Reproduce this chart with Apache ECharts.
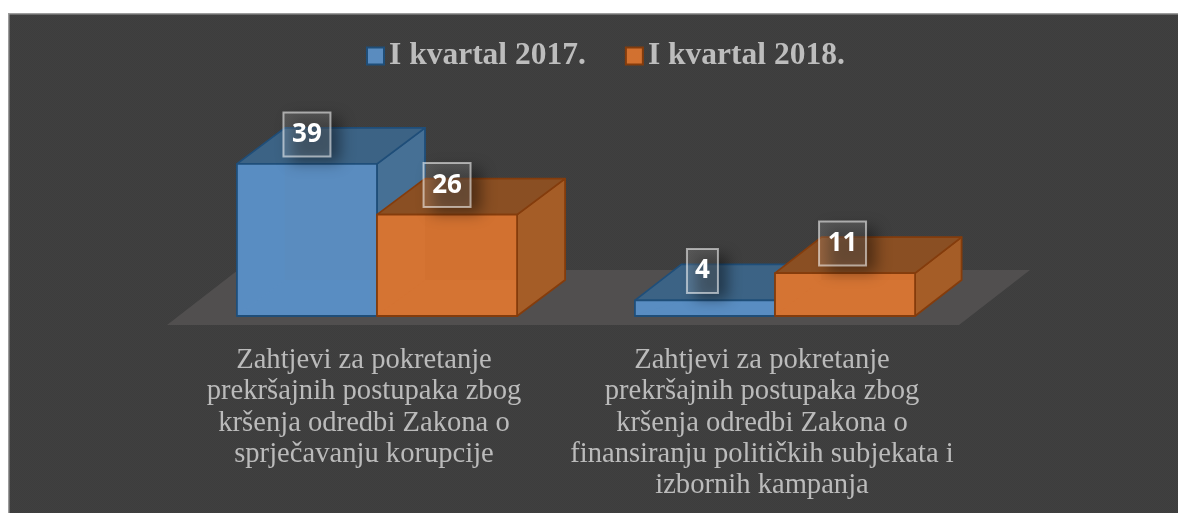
<!DOCTYPE html>
<html><head><meta charset="utf-8">
<style>html,body{margin:0;padding:0;background:#fff}#c{width:1178px;height:513px}</style>
<script src="https://cdn.jsdelivr.net/npm/echarts@6/dist/echarts.min.js"></script>
</head><body><div id="c"></div>
<script>
const categories = [
  "Zahtjevi za pokretanje\nprekršajnih postupaka zbog\nkršenja odredbi Zakona o\nsprječavanju korupcije",
  "Zahtjevi za pokretanje\nprekršajnih postupaka zbog\nkršenja odredbi Zakona o\nfinansiranju političkih subjekata i\nizbornih kampanja"
];
const seriesNames = ["I kvartal 2017.", "I kvartal 2018."];
const values2017 = [39, 4];
const values2018 = [26, 11];

const looks = [
  {front:'#5a8cbf', top:'#3c6385', side:'#467095', edge:'#1f4e79', inner:'rgba(90,160,225,0.10)'},
  {front:'#d27130', top:'#8a4f23', side:'#a55d27', edge:'#843c0c', inner:'rgba(235,135,70,0.14)'}
];

const tile = document.createElement('canvas');
tile.width = tile.height = 2;
const tc = tile.getContext('2d');
tc.fillStyle = '#404040'; tc.fillRect(0,0,2,2);
tc.fillStyle = '#3d3d3d'; tc.fillRect(0,0,1,1); tc.fillRect(1,1,1,1);

function poly(points, style){ return {type:'polygon', shape:{points}, style}; }

function barRenderer(idx){
  return function(params, api){
    const cat = api.value(0), val = api.value(1);
    const p = api.coord([cat, val]), b = api.coord([cat, 0]);
    const w = api.size([1,0])[0] * 0.352;
    const x0 = p[0] + (idx === 0 ? -w : 0), x1 = x0 + w;
    const yt = p[1], yb = b[1];
    const dx = 48 - 1.5*cat, dy = 36;
    const L = looks[idx];
    const stroke = {stroke:L.edge, lineWidth:1.8, lineJoin:'round'};
    const kids = [
      poly([[x1,yb],[x1+dx,yb-dy],[x1+dx,yt-dy],[x1,yt]], Object.assign({fill:L.side}, stroke)),
      poly([[x0,yt],[x0+dx,yt-dy],[x1+dx,yt-dy],[x1,yt]], Object.assign({fill:L.top}, stroke)),
      poly([[x0,yb],[x1,yb],[x1,yt],[x0,yt]], Object.assign({fill:L.front}, stroke)),
      poly([[x0+1,yb-1],[x0+dx,Math.max(yb-dy,yt+1)],[x0+dx,yt+1],[x0+1,yt+1]], {fill:L.inner}),
      poly([[x0+1,yb-1],[x1-1,yb-1],[x1-1,Math.max(yb-dy,yt+1)],[x0+dx,Math.max(yb-dy,yt+1)]], {fill:L.inner})
    ];
    const txt = String(val);
    const bw = txt.length*16 + 15, bh = 44;
    const cx = x0 + w/2 - (cat === 1 ? 2.5 : 0), cy = yt - 29.5;
    const box = {x:cx-bw/2, y:cy-bh/2, width:bw, height:bh};
    const far = 4000;
    kids.push({type:'rect', shape:{x:box.x+8-far, y:box.y+6, width:bw+2, height:bh},
      style:{fill:'#000', shadowBlur:14, shadowColor:'rgba(0,0,0,0.42)', shadowOffsetX:far, shadowOffsetY:0}});
    kids.push({type:'rect', shape:box, style:{fill:'rgba(255,255,255,0.13)', stroke:'rgba(255,255,255,0.55)', lineWidth:2}});
    kids.push({type:'text', style:{text:txt, x:cx, y:cy, align:'center', verticalAlign:'middle',
      font:'bold 26px "Open Sans"', fill:'#ffffff'}});
    return {type:'group', children:kids};
  };
}

function floorRenderer(params, api){
  const cs = params.coordSys;
  const yf = cs.y + cs.height + 9, l = cs.x - 11, r = cs.x + cs.width - 15;
  return poly([[l,yf],[r,yf],[r+71,yf-55],[l+71,yf-55]], {fill:'#514f4f'});
}

const chart = echarts.init(document.getElementById('c'), null, {renderer:'canvas'});
chart.setOption({
  animation:false,
  backgroundColor:'#ffffff',
  graphic:[{type:'rect', z:-10, shape:{x:8,y:13,width:1170,height:500},
    style:{fill:{image:tile, repeat:'repeat'}}},
    {type:'polyline', z:-9, shape:{points:[[8.75,513],[8.75,13.75],[1178,13.75]]}, style:{fill:'none', stroke:'#9c9c9c', lineWidth:1.5}}],
  legend:{
    left:361, top:35, itemWidth:17, itemHeight:17, itemGap:39, icon:'rect',
    data:seriesNames,
    selectedMode:false,
    textStyle:{color:'#bdbdbd', fontFamily:'"Liberation Serif"', fontWeight:'bold', fontSize:31.5}
  },
  grid:{left:178, width:796, top:160, height:156, containLabel:false},
  xAxis:{type:'category', data:categories,
    axisLine:{show:false}, axisTick:{show:false}, splitLine:{show:false},
    axisLabel:{interval:0, margin:29, color:'#bbbbbb', fontFamily:'"Liberation Serif"', fontSize:28.6, lineHeight:31.3, align:'center', padding:[0,26,0,0]}},
  yAxis:{type:'value', min:0, max:40, interval:10, show:false},
  series:[
    {type:'custom', name:'floor', silent:true, coordinateSystem:'cartesian2d', data:[[0,0]], renderItem:floorRenderer, z:1},
    {type:'custom', name:seriesNames[0], coordinateSystem:'cartesian2d', encode:{x:0,y:1},
     data:values2017.map((v,i)=>[i,v]), renderItem:barRenderer(0), z:2,
     itemStyle:{color:looks[0].front, borderColor:looks[0].edge, borderWidth:2}},
    {type:'custom', name:seriesNames[1], coordinateSystem:'cartesian2d', encode:{x:0,y:1},
     data:values2018.map((v,i)=>[i,v]), renderItem:barRenderer(1), z:3,
     itemStyle:{color:looks[1].front, borderColor:looks[1].edge, borderWidth:2}}
  ]
});
</script></body></html>
